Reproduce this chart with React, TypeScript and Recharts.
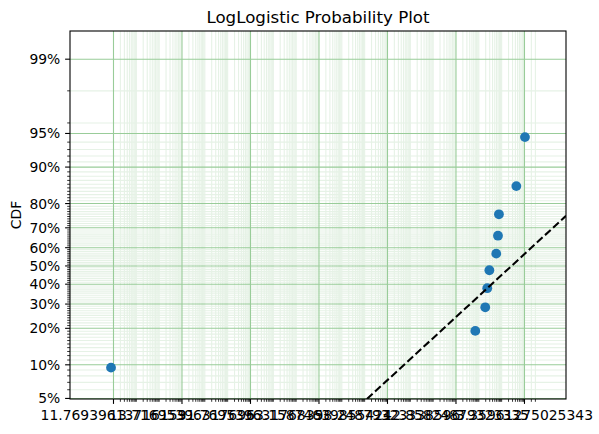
import React from "react";
import { ScatterChart, Scatter, XAxis, YAxis, CartesianGrid } from "recharts";

// failure times (log axis) and their plotting positions (CDF, %)
const failureTimes = [0.78, 7.0e15, 1.91e16, 2.34e16, 2.9e16, 5.8e16, 6.9e16, 7.6e16, 4.4e17, 1.05e18];
const cdfPercent = [9.45, 19.1, 28.5, 37.9, 47.6, 56.8, 66.2, 75.9, 85.5, 94.6];

// fitted LogLogistic line, read at the edges of the plot
const fitTimes = [1.26e11, 6.58e19];
const fitCdfPercent = [4.94, 75.3];

const xDomain = [0.01245, 6.58e19];
const yDomainPercent = [4.94, 99.463];

const xMajorTicks = [1, 1e3, 1e6, 1e9, 1e12, 1e15, 1e18];
const xTickLabels = [
  "11.76939613716159",
  "13.71695396317695",
  "31.76953963176839",
  "63.15874639855421",
  "58.24879323338596",
  "42.85824879323335",
  "3.35961275025343",
];
const xMinorEnd = 3e18;

const yMajorPercent = [5, 10, 20, 30, 40, 50, 60, 70, 80, 90, 95, 99];
const yTickLabels = ["5%", "10%", "20%", "30%", "40%", "50%", "60%", "70%", "80%", "90%", "95%", "99%"];

const logit = (p: number) => Math.log(p / (100 - p));

// minor ticks: every 1% between the labelled ones, plus 96 and 98
const yMinorPercent: number[] = [];
for (let p = 6; p < 95; p++) {
  if (!yMajorPercent.includes(p)) yMinorPercent.push(p);
}
yMinorPercent.push(96, 98);

// minor ticks on the log axis: 2..9 x 10^d and the in-between decades
const xMinorTicks: number[] = [];
for (let d = 0; d <= 18; d++) {
  for (let k = 1; k <= 9; k++) {
    const v = k * Math.pow(10, d);
    const isMajor = k === 1 && d % 3 === 0;
    if (!isMajor && v <= xMinorEnd) xMinorTicks.push(v);
  }
}

const xAllTicks = [...xMajorTicks, ...xMinorTicks].sort((a, b) => a - b);
const yMajorTicks = yMajorPercent.map(logit);
const yMinorTicks = yMinorPercent.map(logit);
const yAllTicks = [...yMajorTicks, ...yMinorTicks].sort((a, b) => a - b);
const yDomain = yDomainPercent.map(logit);

const xLabelOf = new Map(xMajorTicks.map((v, i) => [v, xTickLabels[i]]));
const yLabelOf = new Map(yMajorTicks.map((v, i) => [v, yTickLabels[i]]));

const points = failureTimes.map((x, i) => ({ x, y: logit(cdfPercent[i]) }));
const fitLine = fitTimes.map((x, i) => ({ x, y: logit(fitCdfPercent[i]) }));

const FONT = "DejaVu Sans";

const XTick = (props: any) => {
  const { x, y, payload } = props;
  const label = xLabelOf.get(payload.value);
  const major = label !== undefined;
  return (
    <g>
      <line x1={x} x2={x} y1={y} y2={y + (major ? 4.9 : 2.8)} stroke="#000" strokeWidth={major ? 1.1 : 0.8} />
      {major && (
        <text x={x} y={y + 21} textAnchor="middle" fontFamily={FONT} fontSize={13.9} fill="#000">
          {label}
        </text>
      )}
    </g>
  );
};

const YTick = (props: any) => {
  const { x, y, payload } = props;
  const label = yLabelOf.get(payload.value);
  const major = label !== undefined;
  return (
    <g>
      <line x1={x - (major ? 4.9 : 2.8)} x2={x} y1={y} y2={y} stroke="#000" strokeWidth={major ? 1.1 : 0.8} />
      {major && (
        <text x={x - 9.7} y={y + 5} textAnchor="end" fontFamily={FONT} fontSize={13.9} fill="#000">
          {label}
        </text>
      )}
    </g>
  );
};

const Dot = (props: any) => <circle cx={props.cx} cy={props.cy} r={4.9} fill="#1f77b4" />;
const NoDot = () => <g />;

export default function App() {
  return (
    <div style={{ position: "absolute", left: 0, top: 0, width: 599, height: 434, background: "#fff" }}>
      <ScatterChart width={599} height={434} margin={{ top: 31, right: 33, bottom: 0, left: 0 }}>
        <XAxis
          type="number"
          dataKey="x"
          scale="log"
          domain={xDomain}
          allowDataOverflow
          ticks={xAllTicks}
          interval={0}
          tickSize={0}
          tickMargin={0}
          axisLine={false}
          tickLine={false}
          tick={XTick}
          height={35}
        />
        <YAxis
          type="number"
          dataKey="y"
          domain={yDomain}
          allowDataOverflow
          ticks={yAllTicks}
          interval={0}
          tickSize={0}
          tickMargin={0}
          axisLine={false}
          tickLine={false}
          tick={YTick}
          width={70}
        />
        <CartesianGrid
          stroke="#e6f2e6"
          strokeWidth={1.1}
          verticalValues={xMinorTicks}
          horizontalValues={yMinorTicks}
        />
        <CartesianGrid
          stroke="#99cc99"
          strokeWidth={1.1}
          verticalValues={xMajorTicks}
          horizontalValues={yMajorTicks}
        />
        <Scatter data={points} fill="#1f77b4" shape={Dot} isAnimationActive={false} />
        <Scatter
          data={fitLine}
          fill="none"
          shape={NoDot}
          line={{ stroke: "#000", strokeWidth: 2.08, strokeDasharray: "7.7 3.3" }}
          isAnimationActive={false}
        />
      </ScatterChart>
      <svg width={599} height={434} style={{ position: "absolute", left: 0, top: 0, pointerEvents: "none" }}>
        <rect x={70} y={31} width={496} height={368} fill="none" stroke="#000" strokeWidth={1.1} />
        <text x={318} y={22.7} textAnchor="middle" fontFamily={FONT} fontSize={16.67} fill="#000">
          LogLogistic Probability Plot
        </text>
        <text transform="translate(20.5,215) rotate(-90)" textAnchor="middle" fontFamily={FONT} fontSize={13.9} fill="#000">
          CDF
        </text>
      </svg>
    </div>
  );
}
